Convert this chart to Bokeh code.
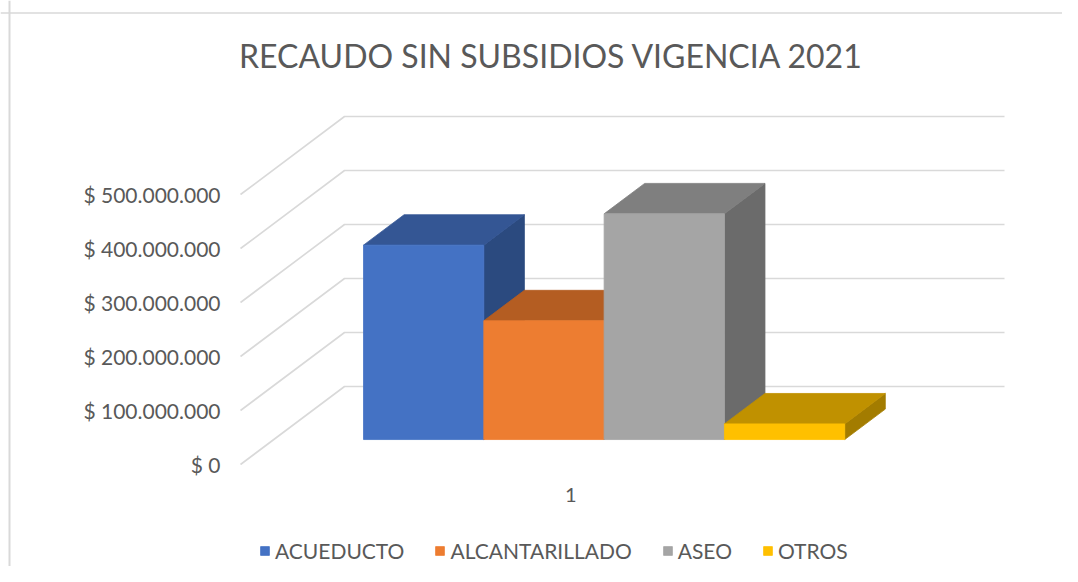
from bokeh.plotting import figure
from bokeh.models import Range1d, Span, Legend, LegendItem
from bokeh.core.properties import value
from bokeh.embed import file_html
from bokeh.resources import INLINE

# ---------------- data ----------------
title_text = "RECAUDO SIN SUBSIDIOS VIGENCIA 2021"
categories = ["ACUEDUCTO", "ALCANTARILLADO", "ASEO", "OTROS"]
values = [360_000_000, 220_000_000, 418_000_000, 29_000_000]
tick_values = [0, 100_000_000, 200_000_000, 300_000_000, 400_000_000, 500_000_000]
tick_labels = ["$ 0", "$ 100.000.000", "$ 200.000.000", "$ 300.000.000",
               "$ 400.000.000", "$ 500.000.000"]
category_labels = ["1"]

front_colors = ["#4472C4", "#ED7D31", "#A5A5A5", "#FFC000"]
top_colors = ["#345694", "#B45D22", "#7F7F7F", "#C09100"]
side_colors = ["#2B4A7F", "#9E5220", "#6B6B6B", "#A37C00"]

# ---------------- layout (pixel geometry of the 3D projection) ----------------
W, H = 1062, 566
OFF = 0                 # observed position of the canvas in the screenshot
X0, Y0 = 240.0, 464.0   # front-left corner of the floor (page px)
SX = 120.3              # px per bar-width unit
SY = 54.0 / 100_000_000  # px per money unit
DEPTH_PX_X, DEPTH_PX_Y = 104.0, 78.0
DX = DEPTH_PX_X / SX
DV = DEPTH_PX_Y / SY
D1, D2 = 0.32, 0.71     # bar front / back depth fractions
BAR0 = 0.746            # first bar's left edge on the floor (bar units)


def px_x(ix):
    return (ix - X0) / SX


def px_y(iy):
    return (Y0 - iy) / SY


def proj(fx, d, v):
    return fx + d * DX, v + d * DV


p = figure(width=W, height=H, output_backend="svg", toolbar_location=None,
           x_range=Range1d(px_x(OFF), px_x(OFF + W)),
           y_range=Range1d(px_y(OFF + H), px_y(OFF)),
           x_axis_type=None, y_axis_type=None, min_border=0,
           background_fill_color="white", border_fill_color="white")
p.grid.visible = False
p.outline_line_color = None

# gridlines: diagonal on the left side wall + horizontal on the back wall
XR = px_x(1004)
xs, ys = [], []
for t in tick_values:
    xs.append([0, DX, XR])
    ys.append([t, t + DV, t + DV])
p.multi_line(xs, ys, line_color="#d9d9d9", line_width=1.6)

# bars
legend_items = []
for i, (cat, v) in enumerate(zip(categories, values)):
    l = BAR0 + i
    r = l + 1
    side = [proj(r, D1, 0), proj(r, D2, 0), proj(r, D2, v), proj(r, D1, v)]
    top = [proj(l, D1, v), proj(r, D1, v), proj(r, D2, v), proj(l, D2, v)]
    front = [proj(l, D1, 0), proj(r, D1, 0), proj(r, D1, v), proj(l, D1, v)]
    p.patch([q[0] for q in side], [q[1] for q in side],
            fill_color=side_colors[i], line_color=side_colors[i], line_width=0.8)
    p.patch([q[0] for q in top], [q[1] for q in top],
            fill_color=top_colors[i], line_color=top_colors[i], line_width=0.8)
    fr = p.patch([q[0] for q in front], [q[1] for q in front],
                 fill_color=front_colors[i], line_color=front_colors[i], line_width=0.8)
    legend_items.append(LegendItem(label=cat, renderers=[fr]))

# value-axis labels (front plane)
p.text(x=[0] * len(tick_values), y=tick_values, text=tick_labels,
       x_offset=-20, text_align="right", text_baseline="middle",
       text_font=value("Lato"), text_font_size="21px", text_color="#595959")

# category label
p.text(x=[BAR0 + len(categories) / 2.0], y=[0], text=category_labels,
       y_offset=30, text_align="center", text_baseline="middle",
       text_font=value("Lato"), text_font_size="20px", text_color="#595959")

# title
p.text(x=[px_x(551)], y=[px_y(55)], text=[title_text],
       text_align="center", text_baseline="middle",
       text_font=value("Lato"), text_font_size="32px", text_color="#595959")

# chart border (left and top visible in the reference)
p.add_layout(Span(location=px_x(9), dimension="height", line_color="#d9d9d9", line_width=2))
p.add_layout(Span(location=px_y(12.5), dimension="width", line_color="#d9d9d9", line_width=1.5))

legend = Legend(items=legend_items, orientation="horizontal", location=(259, 3),
                glyph_width=11, glyph_height=11, label_standoff=5, spacing=30,
                padding=0, margin=0, border_line_color=None, background_fill_alpha=0,
                label_text_font="Lato", label_text_font_size="21px",
                label_text_color="#595959")
p.add_layout(legend, "center")

open("out.html", "w").write(file_html(p, INLINE))
